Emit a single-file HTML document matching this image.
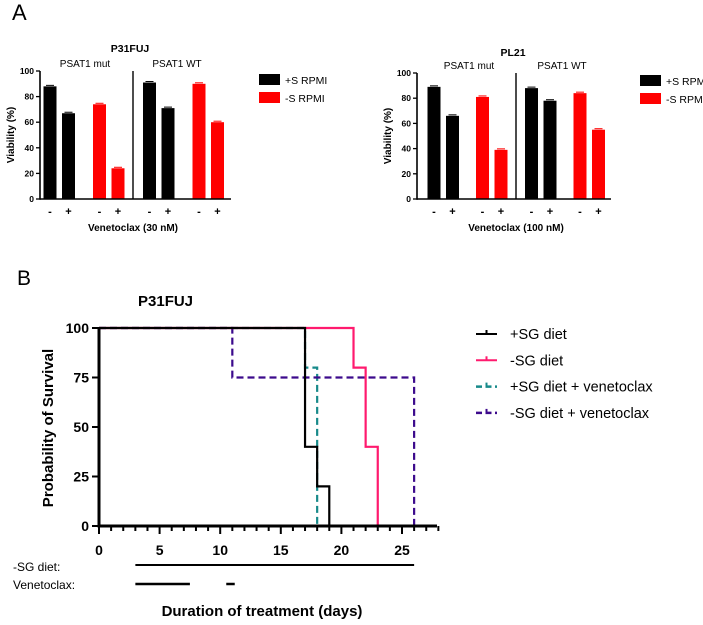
<!DOCTYPE html>
<html><head><meta charset="utf-8"><style>
body{margin:0;background:#fff;}
svg text{font-family:"Liberation Sans",Arial,sans-serif;}
</style></head><body>
<svg id="s" width="703" height="620" viewBox="0 0 703 620" xmlns="http://www.w3.org/2000/svg">
<text x="12" y="20" font-size="22">A</text>
<text x="17" y="285" font-size="21">B</text>
<g id="bars"></g>
<g id="km"></g>
</svg>
<script>
const NS='http://www.w3.org/2000/svg';
function mk(tag,attrs,parent,txt){const e=document.createElementNS(NS,tag);for(const k in attrs)e.setAttribute(k,attrs[k]);if(txt!==undefined)e.textContent=txt;parent.appendChild(e);return e;}

// ---- Panel A data ----
const barGroups=['mut -','mut +','mut -S -','mut -S +','wt -','wt +','wt -S -','wt -S +'];
const p31Values=[88,67,74,24,91,71,90,60];
const pl21Values=[89,66,81,39,88,78,84,55];
const barSigns=['-','+','-','+','-','+','-','+'];
const yTicksA=[0,20,40,60,80,100];

const barsG=document.getElementById('bars');
function barChart(cfg){
  const g=mk('g',{},barsG);
  
  
  const y=v=>cfg.y0-(v/100)*(cfg.y0-cfg.y100);
  cfg.values.forEach((v,i)=>{
    const cx=cfg.x0+i*cfg.step+(i>=2?cfg.gap:0)+(i>=4?cfg.gap2:0)+(i>=6?cfg.gap:0);
    const col=(i===2||i===3||i===6||i===7)?'#ff0000':'#000';
    const r=mk('rect',{x:cx-6.5,y:y(v),width:13,height:cfg.y0-y(v),fill:col},g);
    
    
    mk('line',{x1:cx-4,x2:cx+4,y1:y(v)-1,y2:y(v)-1,stroke:col,'stroke-width':1},g);
    const t=mk('text',{x:cx,y:cfg.y0+16,'font-size':11,'font-weight':'bold','text-anchor':'middle'},g,barSigns[i]);
    
    
  });
  mk('line',{x1:cfg.ax,x2:cfg.ax,y1:cfg.y100,y2:cfg.y0+0.8,stroke:'#000','stroke-width':1.6},g);
  mk('line',{x1:cfg.ax,x2:cfg.xEnd,y1:cfg.y0,y2:cfg.y0,stroke:'#000','stroke-width':1.6},g);
  mk('line',{x1:cfg.div,x2:cfg.div,y1:cfg.y100,y2:cfg.y0,stroke:'#000','stroke-width':1.4},g);
  yTicksA.forEach(t=>{
    mk('line',{x1:cfg.ax-4,x2:cfg.ax,y1:y(t),y2:y(t),stroke:'#000','stroke-width':1.3},g);
    mk('text',{x:cfg.ax-6,y:y(t)+3,'font-size':8.5,'font-weight':'bold','text-anchor':'end'},g,t);
  });
  cfg.values.forEach((v,i)=>{});
  const tt=mk('text',{x:cfg.div-3,y:cfg.titleY,'font-size':10.5,'font-weight':'bold','text-anchor':'middle'},g,cfg.title);
  
  
  mk('text',{x:cfg.mutX,y:cfg.y100-4,'font-size':10,'text-anchor':'middle'},g,'PSAT1 mut');
  mk('text',{x:cfg.wtX,y:cfg.y100-4,'font-size':10,'text-anchor':'middle'},g,'PSAT1 WT');
  const xl=mk('text',{x:cfg.div,y:cfg.y0+32,'font-size':10,'font-weight':'bold','text-anchor':'middle'},g,cfg.xlabel);
  
  
  const yl=mk('text',{x:0,y:0,'font-size':10,'font-weight':'bold','text-anchor':'middle',transform:`translate(${cfg.ax-26},${(cfg.y0+cfg.y100)/2}) rotate(-90)`},g,'Viability (%)');
  
  
  [['+S RPMI','#000',0],['-S RPMI','#ff0000',18]].forEach(([lab,col,dy])=>{
    const le=mk('g',{},g);
    
    
    mk('rect',{x:cfg.legX,y:cfg.legY+dy,width:21,height:11,fill:col},le);
    mk('text',{x:cfg.legX+26,y:cfg.legY+dy+10,'font-size':10.5},le,lab);
  });
}
barChart({name:'p31fuj-bar-chart',values:p31Values,title:'P31FUJ',x0:50,step:18.5,gap:12.5,gap2:13,ax:40,xEnd:231,div:133,y0:199,y100:71,titleY:52,mutX:85,wtX:177,xlabel:'Venetoclax (30 nM)',legX:259,legY:74});
barChart({name:'pl21-bar-chart',values:pl21Values,title:'PL21',x0:434,step:18.5,gap:11.5,gap2:12,ax:417,xEnd:611,div:516,y0:199,y100:73,titleY:56,mutX:469,wtX:562,xlabel:'Venetoclax (100 nM)',legX:640,legY:75});

// ---- Panel B data ----
const seriesNames=['+SG diet','-SG diet','+SG diet + venetoclax','-SG diet + venetoclax'];
const blackTimes=[0,17,18,19];const blackSurv=[100,40,20,0];
const pinkTimes=[0,21,22,23];const pinkSurv=[100,80,40,0];
const tealTimes=[0,17,18];const tealSurv=[100,80,0];
const purpleTimes=[0,11,26];const purpleSurv=[100,75,0];
const xTicksB=[0,5,10,15,20,25];
const yTicksB=[0,25,50,75,100];
const sgDietSpan=[3,26];
const venSpans=[[3,7.5],[10.5,11.2]];

const km=document.getElementById('km');


const X=d=>99+d*12.12, Y=p=>526-p*1.98;
mk('text',{x:138,y:306,'font-size':15,'font-weight':'bold'},km,'P31FUJ');
function step(times,surv){let d=`M${X(times[0])},${Y(surv[0])}`;for(let i=1;i<times.length;i++){d+=`H${X(times[i])}V${Y(surv[i])}`;}return d;}
const defs=[[tealTimes,tealSurv,'#178a8a','7,4','series-plus-sg-venetoclax'],[purpleTimes,purpleSurv,'#3c0a8c','7,4','series-minus-sg-venetoclax'],[pinkTimes,pinkSurv,'#ff1a6e','','series-minus-sg'],[blackTimes,blackSurv,'#000','','series-plus-sg']];
defs.forEach(([t,s,c,da,n])=>{
  const p=mk('path',{d:step(t,s),fill:'none',stroke:c,'stroke-width':2.2,'stroke-dasharray':da||'none'},km);
  
  
});
mk('line',{x1:X(0),x2:X(0),y1:Y(100),y2:Y(0)+1.5,stroke:'#000','stroke-width':3},km);
mk('line',{x1:X(0),x2:437,y1:Y(0),y2:Y(0),stroke:'#000','stroke-width':3},km);
for(let d=0;d<=28;d++){const major=xTicksB.includes(d);mk('line',{x1:X(d),x2:X(d),y1:Y(0),y2:Y(0)+(major?8:5),stroke:'#000','stroke-width':2},km);}
xTicksB.forEach(t=>mk('text',{x:X(t),y:555,'font-size':14,'font-weight':'bold','text-anchor':'middle'},km,t));
yTicksB.forEach(t=>{mk('line',{x1:X(0)-7,x2:X(0),y1:Y(t),y2:Y(t),stroke:'#000','stroke-width':2},km);mk('text',{x:X(0)-10,y:Y(t)+5,'font-size':14,'font-weight':'bold','text-anchor':'end'},km,t);});
const yl=mk('text',{x:0,y:0,'font-size':15,'font-weight':'bold','text-anchor':'middle',transform:'translate(53,428) rotate(-90)'},km,'Probability of Survival');


mk('text',{x:13,y:571,'font-size':12},km,'-SG diet:');
mk('text',{x:13,y:589,'font-size':12},km,'Venetoclax:');
mk('line',{x1:X(sgDietSpan[0]),x2:X(sgDietSpan[1]),y1:565,y2:565,stroke:'#000','stroke-width':2},km);
venSpans.forEach(s=>mk('line',{x1:X(s[0]),x2:X(s[1]),y1:584,y2:584,stroke:'#000','stroke-width':2.5},km));
const xl=mk('text',{x:262,y:616,'font-size':15,'font-weight':'bold','text-anchor':'middle'},km,'Duration of treatment (days)');


const legCols=['#000','#ff1a6e','#178a8a','#3c0a8c'];
seriesNames.forEach((n,i)=>{
  const g=mk('g',{},km);
  
  
  const yy=334+i*26.3;
  if(i<2){mk('line',{x1:476,x2:497,y1:yy,y2:yy,stroke:legCols[i],'stroke-width':2},g);mk('line',{x1:486.5,x2:486.5,y1:yy-4,y2:yy,stroke:legCols[i],'stroke-width':2},g);}
  else{mk('line',{x1:476,x2:497,y1:yy,y2:yy,stroke:legCols[i],'stroke-width':2.5,'stroke-dasharray':'6,3.5'},g);mk('line',{x1:486.5,x2:486.5,y1:yy-4,y2:yy,stroke:legCols[i],'stroke-width':2},g);}
  mk('text',{x:510,y:yy+5,'font-size':14.5},g,n);
});
</script>
</body></html>
